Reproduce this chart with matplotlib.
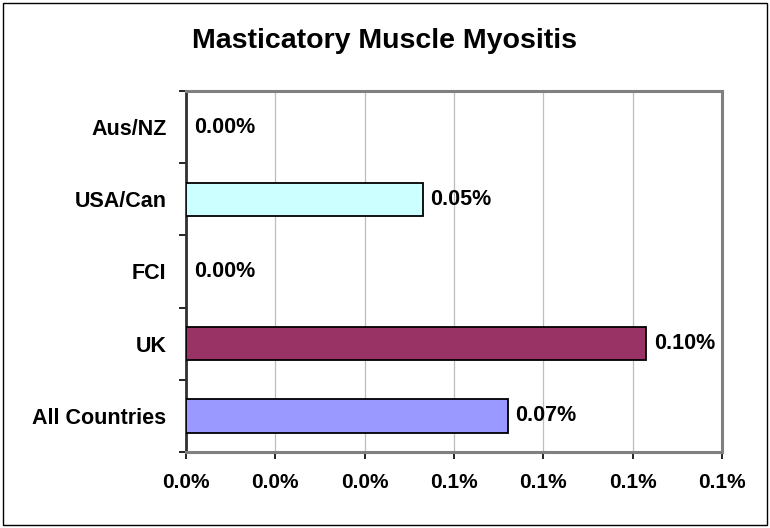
import matplotlib.pyplot as plt
from matplotlib.patches import Rectangle
from matplotlib.ticker import FuncFormatter, MultipleLocator
import numpy as np

categories = ["All Countries", "UK", "FCI", "USA/Can", "Aus/NZ"]
values = [0.00072, 0.00103, 0.0, 0.00053, 0.0]
value_labels = ["0.07%", "0.10%", "0.00%", "0.05%", "0.00%"]
bar_colors = ["#9999FF", "#993366", "#FFFFFF", "#CCFFFF", "#FFFFFF"]

plt.rcParams["font.family"] = ["Liberation Sans", "DejaVu Sans"]
plt.rcParams["font.weight"] = "bold"

fig = plt.figure(figsize=(7.7, 5.28), dpi=100)
ax = fig.add_axes([0.2416, 0.1439, 0.6961, 0.6838])

y = np.arange(len(categories))
bars = ax.barh(y, values, height=0.46, color=bar_colors, edgecolor="black", linewidth=1.3, zorder=3)
for bar, v in zip(bars, values):
    if v == 0:
        bar.set_visible(False)

for yi, v, lab in zip(y, values, value_labels):
    ax.annotate(lab, xy=(v, yi), xytext=(5.5, 0), textcoords="offset points",
                ha="left", va="center", fontsize=15.5, fontweight="bold", zorder=4)

ax.set_xlim(0, 0.0012)
ax.set_ylim(-0.5, len(categories) - 0.5)
ax.xaxis.set_major_locator(MultipleLocator(0.0002))
ax.xaxis.set_major_formatter(FuncFormatter(lambda v, p: f"{v * 100:.1f}%"))
ax.grid(axis="x", color="#BDBDBD", linewidth=0.9, zorder=0)

ax.set_yticks(y)
ax.set_yticklabels(categories)
ax.set_yticks(np.arange(-0.5, len(categories), 1.0), minor=True)
ax.tick_params(axis="y", which="major", length=0, pad=14, labelsize=15.5)
ax.tick_params(axis="y", which="minor", length=5, width=1.2, direction="out")
ax.tick_params(axis="x", length=5, width=1.2, direction="out", pad=10, labelsize=15)

for side in ["top", "right", "bottom"]:
    ax.spines[side].set_color("#808080")
    ax.spines[side].set_linewidth(2.2)
ax.spines["left"].set_color("#303030")
ax.spines["left"].set_linewidth(2.0)

fig.text(0.5, 0.922, "Masticatory Muscle Myositis", ha="center", va="center",
         fontsize=20.5, fontweight="bold")

fig.patches.append(Rectangle((0.004, 0.006), 0.992, 0.989, transform=fig.transFigure,
                             fill=False, edgecolor="black", linewidth=1.0))

fig.savefig("out.png", dpi=100)
